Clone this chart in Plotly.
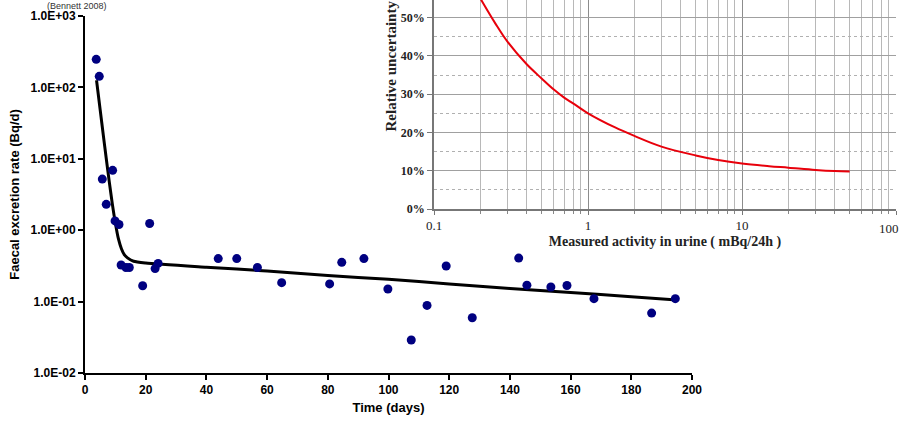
import plotly.graph_objects as go

# ---- main chart data: faecal excretion ----
days = [3.7, 4.7, 5.7, 7.0, 9.1, 9.9, 11.2, 11.9, 13.5, 14.6, 19.0, 21.3, 23.1, 24.1,
        43.9, 50.0, 56.8, 64.8, 80.6, 84.6, 91.9, 99.8, 107.5, 112.7, 119.0, 127.6,
        142.9, 145.6, 153.5, 158.8, 167.7, 186.7, 194.5]
rate = [247, 143, 5.2, 2.3, 6.9, 1.35, 1.2, 0.325, 0.30, 0.30, 0.167, 1.24, 0.29, 0.343,
        0.40, 0.40, 0.30, 0.184, 0.177, 0.355, 0.40, 0.15, 0.029, 0.0885, 0.315, 0.0595,
        0.407, 0.17, 0.16, 0.168, 0.11, 0.069, 0.11]

fit_days = [3.8, 5, 6, 7, 8, 9, 10, 11, 12, 13, 14, 16, 20, 40, 60, 80, 100, 120,
            140, 160, 180, 195]
fit_rate = [126, 48.5, 22, 10.1, 4.75, 2.34, 1.26, 0.76, 0.55, 0.45, 0.41, 0.367,
            0.347, 0.303, 0.268, 0.232, 0.205, 0.177, 0.153, 0.134, 0.117, 0.105]

main_ytick_vals = [1e-2, 1e-1, 1e0, 1e1, 1e2, 1e3]
main_ytick_text = ["1.0E-02", "1.0E-01", "1.0E+00", "1.0E+01", "1.0E+02", "1.0E+03"]
main_xtick_vals = [0, 20, 40, 60, 80, 100, 120, 140, 160, 180, 200]

# ---- inset data: relative uncertainty ----
activity = [0.2, 0.25, 0.3, 0.4, 0.5, 0.6, 0.7, 0.8, 1, 1.5, 2, 3, 5, 7, 10, 15, 20,
            30, 40, 50]
uncert = [0.55, 0.485, 0.437, 0.378, 0.341, 0.312, 0.291, 0.276, 0.25, 0.213, 0.191,
          0.163, 0.14, 0.128, 0.119, 0.112, 0.108, 0.102, 0.099, 0.098]
inset_xtick_vals = [0.1, 1, 10, 100]
inset_xtick_text = ["0.1", "1", "10", ""]
inset_last_label = "100"
inset_ytick_vals = [0, 0.1, 0.2, 0.3, 0.4, 0.5]
inset_ytick_text = ["0%", "10%", "20%", "30%", "40%", "50%"]

W, H = 900, 422
def px(x):
    return x / W
def py(y):
    return (H - y) / H

fig = go.Figure()

fig.add_trace(go.Scatter(x=fit_days, y=fit_rate, mode="lines",
                         line=dict(color="black", width=3, shape="spline", smoothing=0.6),
                         xaxis="x", yaxis="y", showlegend=False))
fig.add_trace(go.Scatter(x=days, y=rate, mode="markers",
                         marker=dict(color="#000080", size=9),
                         xaxis="x", yaxis="y", showlegend=False))

fig.add_trace(go.Scatter(x=activity, y=uncert, mode="lines",
                         line=dict(color="#e8000b", width=2, shape="spline"),
                         xaxis="x2", yaxis="y2", showlegend=False))

sans = "Liberation Sans, Arial"
serif = "Liberation Serif, Times New Roman"
main_title_font = dict(family=sans, size=13, color="#000000")
main_tick_font = dict(family=sans, size=12, color="#000000", weight="bold")

fig.update_layout(
    width=W, height=H,
    margin=dict(l=0, r=0, t=0, b=0, autoexpand=False),
    paper_bgcolor="white", plot_bgcolor="white",
    xaxis=dict(domain=[px(85), px(692)], range=[0, 200], tickvals=main_xtick_vals,
               automargin=False,
               showgrid=False, zeroline=False, showline=True, linecolor="black",
               linewidth=2, ticks="outside", ticklen=5, tickwidth=2, tickcolor="black",
               tickfont=main_tick_font,
               title=dict(text="<b>Time (days)</b>", font=main_title_font, standoff=6),
               anchor="y"),
    yaxis=dict(domain=[py(373), py(16)], type="log", range=[-2, 3],
               tickvals=main_ytick_vals, ticktext=main_ytick_text,
               automargin=False,
               showgrid=False, zeroline=False, showline=True, linecolor="black",
               linewidth=2, ticks="outside", ticklen=5, tickwidth=2, tickcolor="black",
               tickfont=main_tick_font,
               title=dict(text="<b>Faecal excretion rate (Bq/d)</b>", font=main_title_font,
                          standoff=8),
               anchor="x"),
    xaxis2=dict(domain=[px(434), px(896)], type="log", range=[-1, 2],
                tickvals=inset_xtick_vals, ticktext=inset_xtick_text,
                automargin=False,
                showgrid=True, gridcolor="#8c8c8c", gridwidth=1.3,
                minor=dict(dtick="D1", showgrid=True, gridcolor="#b8b8b8",
                           ticks="outside", ticklen=3, tickcolor="#888"),
                zeroline=False, showline=True, linecolor="#777", linewidth=1.5,
                ticks="outside", ticklen=4, tickcolor="#777",
                tickfont=dict(family=serif, size=13, color="#222"),
                title=dict(text="<b>Measured activity in urine ( mBq/24h )</b>",
                           font=dict(family=serif, size=14, color="#222"), standoff=4),
                anchor="y2"),
    yaxis2=dict(domain=[py(209), 1.0], range=[0, 0.546],
                tickvals=inset_ytick_vals, ticktext=inset_ytick_text,
                automargin=False,
                showgrid=True, gridcolor="#a0a0a0", gridwidth=1.2,
                minor=dict(dtick=0.05, showgrid=True, gridcolor="#b0b0b0",
                           griddash="dot"),
                zeroline=False, showline=True, linecolor="#777", linewidth=1.5,
                ticks="outside", ticklen=5, tickcolor="#777",
                tickfont=dict(family=serif, size=12, color="#222", weight="bold"),
                anchor="x2"),
    annotations=[
        dict(text="(Bennett 2008)", xref="paper", yref="paper",
             x=px(108), y=1.0, xanchor="right", yanchor="top",
             showarrow=False, borderpad=0,
             font=dict(family=sans, size=9, color="#333")),
        dict(text=inset_last_label, xref="paper", yref="paper",
             x=1.0, y=py(220), xanchor="right", yanchor="top",
             showarrow=False, borderpad=0,
             font=dict(family=serif, size=13, color="#222")),
        dict(text="<b>Relative uncertainty</b>", xref="paper", yref="paper",
             x=px(390), y=1.0, xanchor="center", yanchor="top", textangle=-90,
             showarrow=False, borderpad=0,
             font=dict(family=serif, size=15, color="#222")),
    ],
)

fig.write_html("out.html", post_script="document.body.style.margin='0';",
               config={"displayModeBar": False})
